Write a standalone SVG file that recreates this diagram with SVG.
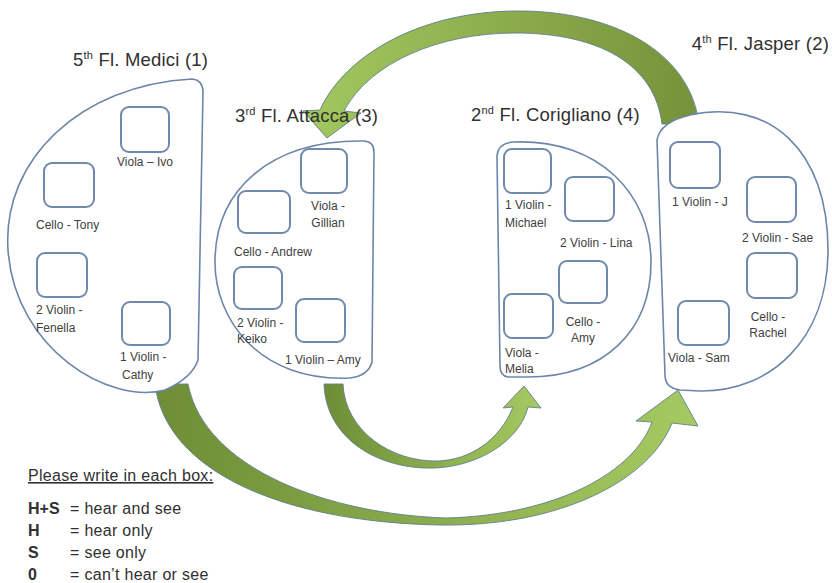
<svg xmlns="http://www.w3.org/2000/svg" width="832" height="583" viewBox="0 0 832 583">
<defs>
<linearGradient id="gTop" x1="1" y1="0" x2="0" y2="0">
<stop offset="0" stop-color="#76923a"/>
<stop offset="1" stop-color="#a3c85f"/>
</linearGradient>
<linearGradient id="gBot" x1="0" y1="0" x2="1" y2="0">
<stop offset="0" stop-color="#6e8d36"/>
<stop offset="1" stop-color="#a6ca62"/>
</linearGradient>
</defs>
<style>
.arrow{stroke:#5f7f8f;stroke-width:0.9;stroke-linejoin:round}
.room{fill:#ffffff;stroke:#6b86a8;stroke-width:1.6}
.box{fill:#ffffff;stroke:#7189ab;stroke-width:2}
.lbl{font-family:"Liberation Sans",Arial,sans-serif;font-size:12px;fill:#404040}
.mid{text-anchor:middle}
.ttl{font-family:"Liberation Sans",Arial,sans-serif;font-size:18.5px;letter-spacing:0.2px;fill:#303030}
.sup{font-size:11px}
.leg{font-family:"Liberation Sans",Arial,sans-serif;font-size:16px;letter-spacing:0.3px;fill:#303030}
.key{font-weight:bold;letter-spacing:0}
</style>
<rect width="832" height="583" fill="#ffffff"/>
<g id="connectors">
<path class="arrow" fill="url(#gTop)" d="M 699 124 C 690 50 610 10 515 11 C 420 12 345 55 320 110 L 303 111 L 327 138 L 361 113 L 344 111 C 370 62 440 33 515 33 C 600 33 655 65 662 124 Z"/>
<path class="arrow" fill="url(#gBot)" d="M 324 384 C 326 440 380 470 435 468 C 480 466 520 440 528 407 L 541 408 L 524 386 L 503 408 L 513 407 C 500 440 470 460 438 461 C 390 462 345 430 343 384 Z"/>
<path class="arrow" fill="url(#gBot)" d="M 155 384 C 165 470 280 522 440 525 C 560 527 650 480 672 423 L 698 426 L 678 390 L 636 421 L 652 422 C 635 470 560 515 446 518 C 330 514 205 470 188 384 Z"/>
</g>
<g id="medici">
<path class="room" d="M 192 79 Q 203 80 203 92 L 198 360 Q 192 378 165 390 C 110 405 15 350 8 250 C 2 160 80 85 192 79 Z"/>
<text class="ttl" x="73" y="66">5<tspan class="sup" dy="-7">th</tspan><tspan dy="7"> Fl. Medici (1)</tspan></text>
<rect class="box" x="121" y="107" width="48" height="45" rx="8"/>
<text class="lbl mid" x="145" y="166">Viola – Ivo</text>
<rect class="box" x="44" y="163" width="50" height="44" rx="8"/>
<text class="lbl" x="36" y="229">Cello - Tony</text>
<rect class="box" x="37" y="253" width="50" height="44" rx="8"/>
<text class="lbl" x="36" y="314">2 Violin -</text>
<text class="lbl" x="36" y="332">Fenella</text>
<rect class="box" x="122" y="302" width="48" height="43" rx="8"/>
<text class="lbl" x="120" y="361">1 Violin -</text>
<text class="lbl" x="122" y="379">Cathy</text>
</g>
<g id="attacca">
<path class="room" d="M 363 141 Q 374 141 374 152 L 372 362 Q 368 376 350 378 C 260 382 214 320 215 260 C 216 190 270 140 363 141 Z"/>
<text class="ttl" x="235" y="122">3<tspan class="sup" dy="-7">rd</tspan><tspan dy="7"> Fl. Attacca (3)</tspan></text>
<rect class="box" x="301" y="149" width="46" height="44" rx="8"/>
<text class="lbl mid" x="328" y="210">Viola -</text>
<text class="lbl mid" x="328" y="227">Gillian</text>
<rect class="box" x="238" y="191" width="52" height="42" rx="8"/>
<text class="lbl" x="234" y="256">Cello - Andrew</text>
<rect class="box" x="234" y="267" width="48" height="42" rx="8"/>
<text class="lbl" x="237" y="327">2 Violin -</text>
<text class="lbl" x="237" y="343">Keiko</text>
<rect class="box" x="296" y="299" width="49" height="43" rx="8"/>
<text class="lbl" x="285" y="364">1 Violin – Amy</text>
</g>
<g id="corigliano">
<path class="room" d="M 497 156 Q 498 143 514 142 C 600 139 651 195 651 262 C 651 330 605 378 525 377 L 508 377 Q 500 376 500 366 Z"/>
<text class="ttl" x="471" y="121">2<tspan class="sup" dy="-7">nd</tspan><tspan dy="7"> Fl. Corigliano (4)</tspan></text>
<rect class="box" x="504" y="149" width="47" height="44" rx="8"/>
<text class="lbl" x="505" y="209">1 Violin -</text>
<text class="lbl" x="505" y="227">Michael</text>
<rect class="box" x="565" y="177" width="49" height="44" rx="8"/>
<text class="lbl" x="560" y="247">2 Violin - Lina</text>
<rect class="box" x="559" y="261" width="48" height="42" rx="8"/>
<text class="lbl mid" x="583" y="326">Cello -</text>
<text class="lbl mid" x="583" y="342">Amy</text>
<rect class="box" x="504" y="294" width="49" height="44" rx="8"/>
<text class="lbl" x="505" y="357">Viola -</text>
<text class="lbl" x="505" y="373">Melia</text>
</g>
<g id="jasper">
<path class="room" d="M 657 140 Q 660 122 690 115 C 770 98 828 150 828 250 C 828 340 770 392 700 391 L 680 390 Q 665 388 665 375 Z"/>
<text class="ttl" x="829" y="50" text-anchor="end">4<tspan class="sup" dy="-7">th</tspan><tspan dy="7"> Fl. Jasper (2)</tspan></text>
<rect class="box" x="670" y="142" width="50" height="46" rx="8"/>
<text class="lbl" x="672" y="206">1 Violin - J</text>
<rect class="box" x="747" y="177" width="49" height="45" rx="8"/>
<text class="lbl" x="742" y="242">2 Violin - Sae</text>
<rect class="box" x="747" y="253" width="50" height="45" rx="8"/>
<text class="lbl mid" x="768" y="321">Cello -</text>
<text class="lbl mid" x="768" y="337">Rachel</text>
<rect class="box" x="678" y="301" width="51" height="44" rx="8"/>
<text class="lbl" x="668" y="362">Viola - Sam</text>
</g>
<g id="legend">
<text class="leg" x="28" y="481" text-decoration="underline">Please write in each box:</text>
<text class="leg key" x="28" y="514">H+S</text>
<text class="leg" x="70" y="514">= hear and see</text>
<text class="leg key" x="28" y="536">H</text>
<text class="leg" x="70" y="536">= hear only</text>
<text class="leg key" x="28" y="558">S</text>
<text class="leg" x="70" y="558">= see only</text>
<text class="leg key" x="28" y="580">0</text>
<text class="leg" x="70" y="580">= can’t hear or see</text>
</g>
</svg>
